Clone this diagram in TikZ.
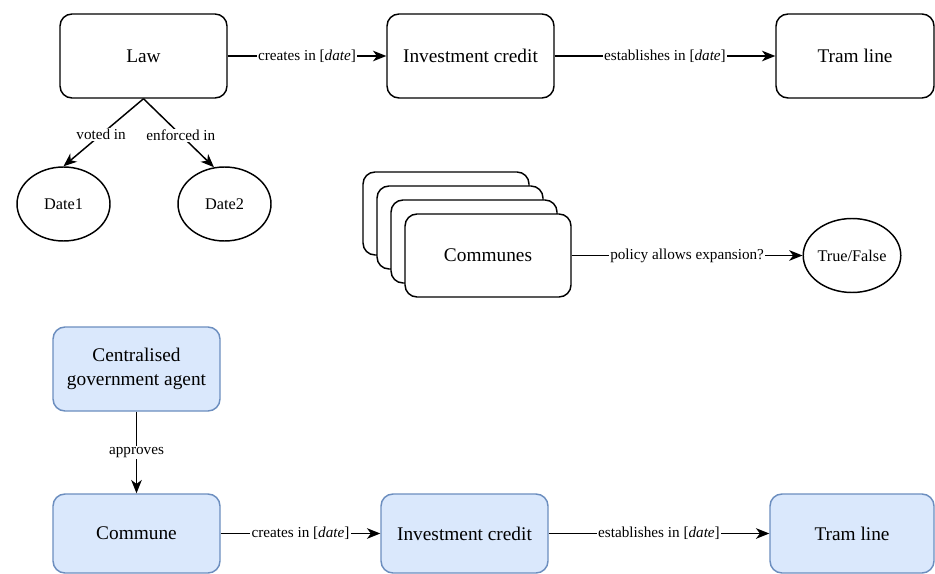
\documentclass[tikz,border=0pt]{standalone}
\usepackage{fontspec}
\setmainfont{Liberation Serif}
\usetikzlibrary{arrows.meta,shapes.geometric}
\definecolor{bluefill}{HTML}{DAE8FC}
\definecolor{bluestroke}{HTML}{6C8EBF}
\tikzset{
  box/.style={draw=black, line width=1.1pt, rounded corners=9pt, fill=white,
    minimum width=125.25pt, minimum height=63pt, inner sep=0pt, align=center,
    font=\fontsize{14.5}{18}\selectfont},
  bluebox/.style={box, draw=bluestroke, fill=bluefill},
  oval/.style={draw=black, line width=1.1pt, ellipse, fill=white,
    minimum width=69.75pt, minimum height=55.5pt, inner sep=0pt,
    font=\fontsize{12.2}{14}\selectfont},
  conn/.style={line width=1.1pt, -{Stealth[length=10pt,width=8pt,inset=3pt]}},
  lbl/.style={fill=white, inner sep=0.8pt, font=\fontsize{11.4}{13}\selectfont}
}
\begin{document}
\begin{tikzpicture}[x=0.75pt,y=-0.75pt]
\clip (0,0) rectangle (935,574);
\fill[white] (0,0) rectangle (935,574);

% top row
\node[box] (law) at (143.5,56) {Law};
\node[box] (inv1) at (470.5,56) {Investment credit};
\node[box, minimum width=118.5pt] (tram1) at (855,56) {Tram line};
\node[oval] (d1) at (63.5,204) {Date1};
\node[oval] (d2) at (224.5,204) {Date2};

\draw[conn] (law) -- node[lbl] {creates in [\textit{date}]} (inv1);
\draw[conn] (inv1) -- node[lbl] {establishes in [\textit{date}]} (tram1);
\draw[conn] (law.south) -- node[lbl, pos=0.53] {voted in} (d1.north);
\draw[conn] (law.south) -- node[lbl, pos=0.53] {enforced in} (d2.106);

% communes stack
\node[box, minimum width=124.5pt, minimum height=62.25pt] (c3) at (446,213.5) {};
\node[box, minimum width=124.5pt, minimum height=62.25pt] (c2) at (460,227.5) {};
\node[box, minimum width=124.5pt, minimum height=62.25pt] (c1) at (474,241.5) {};
\node[box, minimum width=124.5pt, minimum height=62.25pt] (com) at (488,255.5) {Communes};
\node[oval, minimum width=69pt] (tf) at (852,255.5) {True/False};
\draw[conn] (com) -- node[lbl] {policy allows expansion?} (tf);

% bottom
\node[bluebox] (gov) at (136.5,369) {Centralised\\government agent};
\node[bluebox, minimum height=59.25pt] (cmn) at (136.5,533.5) {Commune};
\node[bluebox, minimum height=59.25pt] (inv2) at (464.5,533.5) {Investment credit};
\node[bluebox, minimum height=59.25pt, minimum width=123pt] (tram2) at (852,533.5) {Tram line};

\draw[conn] (gov) -- node[lbl] {approves} (cmn);
\draw[conn] (cmn) -- node[lbl] {creates in [\textit{date}]} (inv2);
\draw[conn] (inv2) -- node[lbl] {establishes in [\textit{date}]} (tram2);
\end{tikzpicture}
\end{document}
